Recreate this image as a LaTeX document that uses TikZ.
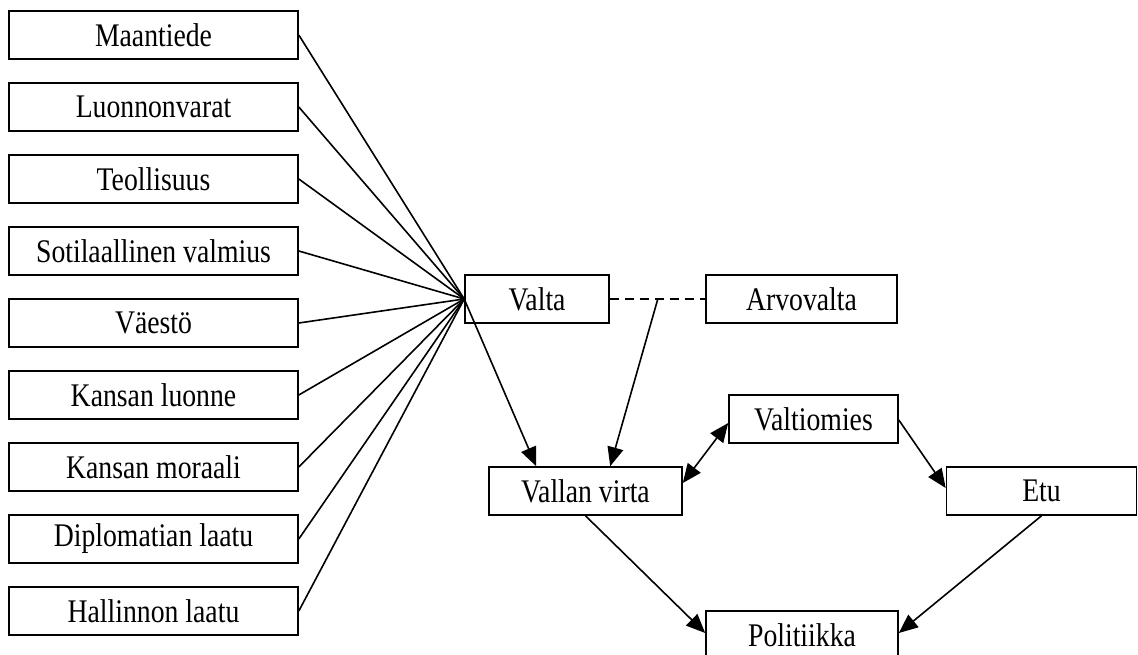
\documentclass[tikz,border=0pt]{standalone}
\usepackage{fontspec}
\setmainfont{Liberation Serif}[FakeStretch=0.84]
\usetikzlibrary{arrows.meta,calc}
\begin{document}
\begin{tikzpicture}[x=1pt,y=-1pt,
  box/.style={draw,line width=1.6pt,inner sep=0pt,minimum height=48pt,font=\fontsize{33}{36}\selectfont},
  conn/.style={line width=1.6pt},
  arr/.style={conn,-{Triangle[length=19pt,width=16pt]}},
  darr/.style={conn,{Triangle[length=19pt,width=16pt]}-{Triangle[length=19pt,width=16pt]}}]
\useasboundingbox (0,0) rectangle (1138,655);
\clip (0,0) rectangle (1138,655);
\node[box,minimum width=289pt] (f1) at (153.5,35) {Maantiede};
\node[box,minimum width=289pt] (f2) at (153.5,107) {Luonnonvarat};
\node[box,minimum width=289pt] (f3) at (153.5,179) {Teollisuus};
\node[box,minimum width=289pt] (f4) at (153.5,251) {Sotilaallinen valmius};
\node[box,minimum width=289pt] (f5) at (153.5,323) {Väestö};
\node[box,minimum width=289pt] (f6) at (153.5,395) {Kansan luonne};
\node[box,minimum width=289pt] (f7) at (153.5,467) {Kansan moraali};
\node[box,minimum width=289pt] (f8) at (153.5,539) {Diplomatian laatu};
\node[box,minimum width=289pt] (f9) at (153.5,611) {Hallinnon laatu};
\node[box,minimum width=144pt] (valta) at (537,299) {Valta};
\node[box,minimum width=191pt] (arvo) at (801.5,299) {Arvovalta};
\node[box,minimum width=193pt] (vv) at (585.5,491) {Vallan virta};
\node[box,minimum width=169pt] (vm) at (813.5,419) {Valtiomies};
\node[box,minimum width=190pt] (etu) at (1041.5,491) {Etu};
\node[box,minimum width=192pt] (pol) at (802,635) {Politiikka};
\foreach \i in {1,...,9} \draw[conn] (f\i.east) -- (valta.west);
\draw[conn,dash pattern=on 9pt off 6pt] (valta.east) -- (arvo.west);
\coordinate (m) at ($(valta.east)+(48,0)$);
\draw[arr] (valta.west) -- ($(vv.north west)+(48,0)$);
\draw[arr] (m) -- ($(vv.north west)+(122,0)$);
\draw[darr] ($(vv.east)+(0,-8)$) -- ($(vm.west)+(0,4)$);
\draw[arr] ($(vm.east)+(0,1)$) -- ($(etu.west)+(0,-3)$);
\draw[arr] (vv.south) -- ($(pol.west)+(0,-2)$);
\draw[arr] (etu.south) -- ($(pol.east)+(0,-2)$);
\end{tikzpicture}
\end{document}
